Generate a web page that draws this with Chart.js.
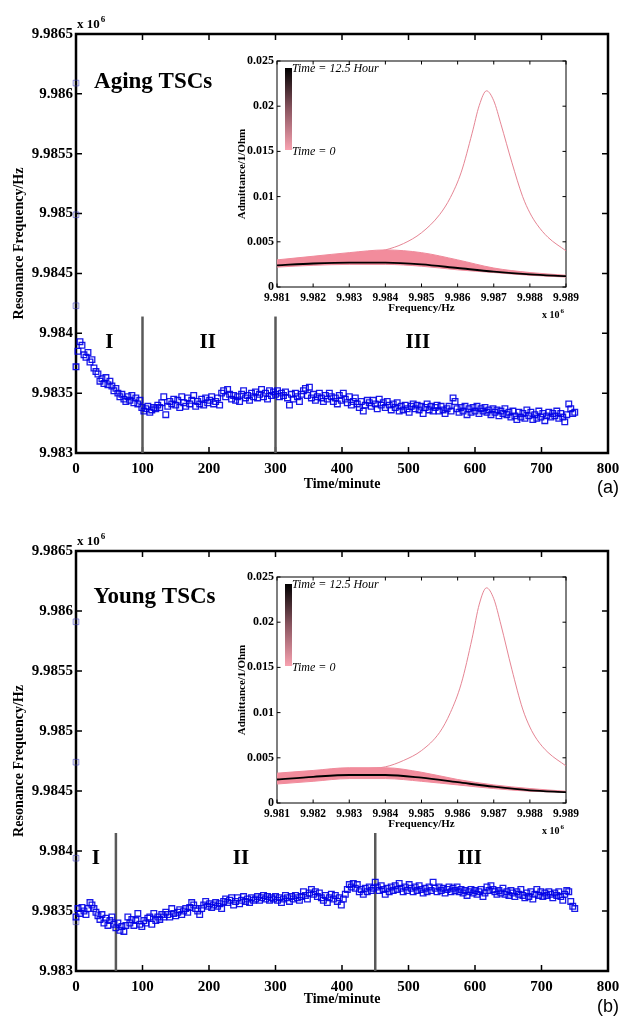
<!DOCTYPE html>
<html>
<head>
<meta charset="utf-8">
<script src="https://cdn.jsdelivr.net/npm/chart.js@4.4.1/dist/chart.umd.min.js"></script>
<style>
body { margin: 0; background: #fff; }
#page { position: relative; width: 633px; height: 1027px; }
canvas { position: absolute; }
</style>
</head>
<body>
<div id="page">
  <canvas id="mainA" width="633" height="510" style="left:0px;top:0px"></canvas>
  <canvas id="insetA" width="355" height="275" style="left:228px;top:50px"></canvas>
  <canvas id="mainB" width="633" height="517" style="left:0px;top:510px"></canvas>
  <canvas id="insetB" width="355" height="275" style="left:228px;top:566px"></canvas>
</div>
<script>
"use strict";

// resonance frequency (x 10^6 Hz), one sweep every 3 minutes, t = 0 ... 750
var sweepStep = 3;
var agingFreq = [
  9.98372, 9.98385, 9.98393, 9.98390, 9.98382, 9.98380, 9.98384, 9.98376, 9.98378, 9.98371,
  9.98368, 9.98366, 9.98360, 9.98362, 9.98358, 9.98363, 9.98357, 9.98360, 9.98356, 9.98352,
  9.98354, 9.98350, 9.98347, 9.98349, 9.98345, 9.98343, 9.98347, 9.98344, 9.98348, 9.98342,
  9.98346, 9.98341, 9.98344, 9.98338, 9.98335, 9.98337, 9.98339, 9.98334, 9.98336, 9.98338,
  9.98337, 9.98340, 9.98338, 9.98342, 9.98347, 9.98332, 9.98339, 9.98343, 9.98341, 9.98345,
  9.98340, 9.98344, 9.98338, 9.98347, 9.98342, 9.98339, 9.98346, 9.98341, 9.98344, 9.98348,
  9.98339, 9.98343, 9.98341, 9.98345, 9.98340, 9.98346, 9.98342, 9.98344, 9.98347, 9.98341,
  9.98343, 9.98346, 9.98340, 9.98350, 9.98352, 9.98347, 9.98353, 9.98349, 9.98345, 9.98348,
  9.98344, 9.98347, 9.98343, 9.98349, 9.98352, 9.98346, 9.98348, 9.98344, 9.98350, 9.98347,
  9.98351, 9.98346, 9.98349, 9.98353, 9.98347, 9.98350, 9.98345, 9.98352, 9.98348, 9.98351,
  9.98349, 9.98352, 9.98347, 9.98350, 9.98348, 9.98351, 9.98346, 9.98340, 9.98349, 9.98345,
  9.98350, 9.98347, 9.98343, 9.98349, 9.98352, 9.98354, 9.98348, 9.98355, 9.98346, 9.98349,
  9.98344, 9.98347, 9.98350, 9.98346, 9.98343, 9.98348, 9.98345, 9.98350, 9.98347, 9.98343,
  9.98346, 9.98341, 9.98348, 9.98344, 9.98350, 9.98345, 9.98342, 9.98347, 9.98340, 9.98343,
  9.98346, 9.98341, 9.98338, 9.98343, 9.98335, 9.98340, 9.98344, 9.98342, 9.98339, 9.98344,
  9.98341, 9.98337, 9.98345, 9.98340, 9.98342, 9.98338, 9.98343, 9.98340, 9.98336, 9.98341,
  9.98338, 9.98342, 9.98335, 9.98339, 9.98336, 9.98340, 9.98337, 9.98334, 9.98339, 9.98341,
  9.98337, 9.98340, 9.98336, 9.98339, 9.98333, 9.98338, 9.98341, 9.98336, 9.98339, 9.98335,
  9.98338, 9.98340, 9.98335, 9.98339, 9.98336, 9.98333, 9.98337, 9.98339, 9.98335, 9.98346,
  9.98343, 9.98337, 9.98334, 9.98338, 9.98335, 9.98339, 9.98332, 9.98337, 9.98334, 9.98338,
  9.98335, 9.98339, 9.98333, 9.98337, 9.98335, 9.98338, 9.98334, 9.98336, 9.98332, 9.98337,
  9.98334, 9.98336, 9.98331, 9.98335, 9.98333, 9.98337, 9.98332, 9.98334, 9.98330, 9.98335,
  9.98331, 9.98328, 9.98334, 9.98330, 9.98333, 9.98329, 9.98336, 9.98331, 9.98334, 9.98328,
  9.98332, 9.98329, 9.98335, 9.98330, 9.98333, 9.98327, 9.98331, 9.98334, 9.98330, 9.98333,
  9.98331, 9.98335, 9.98329, 9.98333, 9.98330, 9.98326, 9.98332, 9.98341, 9.98337, 9.98333,
  9.98334
];
var youngFreq = [
  9.98345, 9.98352, 9.98348, 9.98353, 9.98350, 9.98347, 9.98352, 9.98357, 9.98355, 9.98352,
  9.98349, 9.98346, 9.98343, 9.98347, 9.98340, 9.98344, 9.98338, 9.98342, 9.98345, 9.98339,
  9.98336, 9.98340, 9.98334, 9.98337, 9.98333, 9.98338, 9.98345, 9.98340, 9.98343, 9.98338,
  9.98342, 9.98348, 9.98339, 9.98337, 9.98342, 9.98340, 9.98344, 9.98345, 9.98339, 9.98348,
  9.98342, 9.98345, 9.98343, 9.98347, 9.98345, 9.98349, 9.98347, 9.98345, 9.98352, 9.98348,
  9.98346, 9.98349, 9.98351, 9.98347, 9.98350, 9.98352, 9.98349, 9.98353, 9.98357, 9.98355,
  9.98352, 9.98350, 9.98347, 9.98352, 9.98355, 9.98358, 9.98354, 9.98356, 9.98353, 9.98355,
  9.98357, 9.98354, 9.98356, 9.98352, 9.98358, 9.98360, 9.98357, 9.98359, 9.98361, 9.98355,
  9.98358, 9.98361, 9.98356, 9.98359, 9.98362, 9.98358, 9.98360, 9.98357, 9.98361, 9.98359,
  9.98360, 9.98362, 9.98359, 9.98361, 9.98363, 9.98360, 9.98362, 9.98359, 9.98361, 9.98360,
  9.98362, 9.98359, 9.98361, 9.98357, 9.98360, 9.98363, 9.98361, 9.98358, 9.98362, 9.98360,
  9.98363, 9.98361, 9.98359, 9.98362, 9.98366, 9.98363, 9.98360, 9.98365, 9.98368, 9.98364,
  9.98366, 9.98362, 9.98365, 9.98361, 9.98359, 9.98363, 9.98357, 9.98361, 9.98364, 9.98360,
  9.98363, 9.98358, 9.98361, 9.98355, 9.98360, 9.98364, 9.98368, 9.98372, 9.98370, 9.98373,
  9.98369, 9.98372, 9.98366, 9.98368, 9.98364, 9.98369, 9.98366, 9.98370, 9.98367, 9.98369,
  9.98374, 9.98370, 9.98367, 9.98371, 9.98368, 9.98364, 9.98369, 9.98366, 9.98370, 9.98367,
  9.98371, 9.98368, 9.98373, 9.98369, 9.98366, 9.98370, 9.98367, 9.98372, 9.98369, 9.98366,
  9.98370, 9.98367, 9.98371, 9.98368, 9.98365, 9.98369, 9.98366, 9.98370, 9.98367, 9.98374,
  9.98369, 9.98366, 9.98370, 9.98367, 9.98369, 9.98365, 9.98368, 9.98370, 9.98366, 9.98369,
  9.98367, 9.98370, 9.98366, 9.98368, 9.98365, 9.98367, 9.98363, 9.98366, 9.98368, 9.98365,
  9.98367, 9.98364, 9.98366, 9.98368, 9.98362, 9.98365, 9.98370, 9.98367, 9.98371, 9.98368,
  9.98366, 9.98364, 9.98367, 9.98365, 9.98369, 9.98364, 9.98366, 9.98363, 9.98367, 9.98365,
  9.98362, 9.98366, 9.98364, 9.98368, 9.98363, 9.98361, 9.98365, 9.98362, 9.98366, 9.98360,
  9.98364, 9.98368, 9.98363, 9.98366, 9.98362, 9.98365, 9.98363, 9.98366, 9.98364, 9.98361,
  9.98365, 9.98363, 9.98366, 9.98362, 9.98359, 9.98364, 9.98367, 9.98366, 9.98358, 9.98354,
  9.98352
];
// first sweeps that sat off the trend (all at t = 0)
var agingStart = [9.98609, 9.98499, 9.98423];
var youngStart = [9.98591, 9.98474, 9.98394, 9.98341];

var timeTicks = [0, 100, 200, 300, 400, 500, 600, 700, 800];
var freqTicks = [9.983, 9.9835, 9.984, 9.9845, 9.985, 9.9855, 9.986, 9.9865];

var phaseNames = ["I", "II", "III"];
var agingBounds = [100, 300];
var youngBounds = [60, 450];
var agingPhaseAt = [50, 198, 514];
var youngPhaseAt = [30, 248, 592];

// inset: admittance spectra (frequency x 10^6 Hz, admittance 1/Ohm)
var spectrumFreq = [9.981, 9.982, 9.983, 9.984, 9.985, 9.986, 9.987, 9.988, 9.989];
var agingUpper = [0.0030, 0.0034, 0.0038, 0.0041, 0.0038, 0.0030, 0.0021, 0.0016, 0.0013];
var agingLower = [0.0022, 0.0024, 0.0025, 0.0025, 0.0023, 0.0019, 0.0016, 0.0013, 0.0011];
var agingFinal = [0.0024, 0.0026, 0.0027, 0.0027, 0.0025, 0.0021, 0.0017, 0.0014, 0.0012];
var youngUpper = [0.0033, 0.0036, 0.0039, 0.0039, 0.0034, 0.0026, 0.0020, 0.0016, 0.0013];
var youngLower = [0.0021, 0.0024, 0.0027, 0.0027, 0.0024, 0.0020, 0.0016, 0.0013, 0.0012];
var youngFinal = [0.0026, 0.0029, 0.0031, 0.0031, 0.0028, 0.0023, 0.0018, 0.0014, 0.0012];
var peakFreq = [9.981, 9.982, 9.983, 9.9835, 9.984, 9.9845, 9.985, 9.9855, 9.9858, 9.9861,
  9.9864, 9.9866, 9.9868, 9.987, 9.9872, 9.9875, 9.9878, 9.988, 9.9882, 9.9885, 9.989];
var agingPeak = [0.0026, 0.0029, 0.0034, 0.0037, 0.0041, 0.0048, 0.0060, 0.0080, 0.0099, 0.0127,
  0.0170, 0.0201, 0.0217, 0.0206, 0.0180, 0.0138, 0.0100, 0.0082, 0.0069, 0.0055, 0.0040];
var youngPeak = [0.0027, 0.0030, 0.0035, 0.0038, 0.0040, 0.0047, 0.0058, 0.0078, 0.0100, 0.0132,
  0.0182, 0.0220, 0.0238, 0.0226, 0.0197, 0.0148, 0.0104, 0.0084, 0.0070, 0.0056, 0.0041];
var admTicks = [0, 0.005, 0.01, 0.015, 0.02, 0.025];

var serif = "'Liberation Serif', 'Times New Roman', serif";
Chart.defaults.animation = false;
Chart.defaults.events = [];

function pairs(xs, ys) {
  return ys.map(function (y, i) { return { x: xs[i], y: y }; });
}

// box round the plot with matlab style inward ticks
var framePlugin = {
  id: "frame",
  beforeDraw: function (chart, args, o) {
    var a = chart.chartArea;
    if (o.fill) {
      chart.ctx.save();
      chart.ctx.fillStyle = o.fill;
      chart.ctx.fillRect(a.left, a.top, a.right - a.left, a.bottom - a.top);
      chart.ctx.restore();
    }
  },
  beforeDatasetsDraw: function (chart, args, o) {
    var ctx = chart.ctx, a = chart.chartArea;
    var xs = chart.scales.x, ys = chart.scales.y;
    ctx.save();
    ctx.strokeStyle = "#000";
    ctx.lineWidth = o.tickWidth;
    ctx.beginPath();
    xs.ticks.forEach(function (t) {
      var px = xs.getPixelForValue(t.value);
      ctx.moveTo(px, a.bottom); ctx.lineTo(px, a.bottom - o.tick);
      ctx.moveTo(px, a.top); ctx.lineTo(px, a.top + o.tick);
    });
    ys.ticks.forEach(function (t) {
      var py = ys.getPixelForValue(t.value);
      ctx.moveTo(a.left, py); ctx.lineTo(a.left + o.tick, py);
      ctx.moveTo(a.right, py); ctx.lineTo(a.right - o.tick, py);
    });
    ctx.stroke();
    ctx.lineWidth = o.width;
    ctx.strokeRect(a.left, a.top, a.right - a.left, a.bottom - a.top);
    ctx.restore();
  }
};

function drawExponent(ctx, x, y, size) {
  ctx.font = "bold " + size + "px " + serif;
  ctx.textAlign = "left";
  ctx.textBaseline = "alphabetic";
  ctx.fillText("x 10", x, y);
  var w = ctx.measureText("x 10").width;
  ctx.font = "bold " + Math.round(size * 0.7) + "px " + serif;
  ctx.fillText("6", x + w + 1, y - size * 0.5);
}

var notesPlugin = {
  id: "notes",
  afterDraw: function (chart, args, o) {
    var ctx = chart.ctx, a = chart.chartArea;
    var xs = chart.scales.x, ys = chart.scales.y;
    ctx.save();
    ctx.fillStyle = "#000";
    if (o.title) {
      ctx.font = "bold 23px " + serif;
      ctx.textAlign = "center";
      ctx.textBaseline = "middle";
      ctx.fillText(o.title, xs.getPixelForValue(o.titleAt[0]), ys.getPixelForValue(o.titleAt[1]));
      ctx.font = "bold 21px " + serif;
      o.phaseAt.forEach(function (t, i) {
        ctx.fillText(phaseNames[i], xs.getPixelForValue(t), ys.getPixelForValue(o.phaseY));
      });
      ctx.font = "18px 'Liberation Sans', Arial, sans-serif";
      ctx.fillText(o.panel, o.panelXY[0], o.panelXY[1]);
      drawExponent(ctx, a.left + 1, a.top - 6, 13);
    }
    if (o.colorbar) {
      var top = a.top + 7, h = 82;
      var g = ctx.createLinearGradient(0, top, 0, top + h);
      g.addColorStop(0, "#000000");
      g.addColorStop(0.5, "#8a5560");
      g.addColorStop(1, "#f8a2b0");
      ctx.fillStyle = g;
      ctx.fillRect(a.left + 8, top, 7, h);
      ctx.fillStyle = "#000";
      ctx.font = "italic 12px " + serif;
      ctx.textAlign = "left";
      ctx.textBaseline = "middle";
      ctx.fillText("Time = 12.5 Hour", a.left + 15, top + 1);
      ctx.fillText("Time = 0", a.left + 15, top + h + 2);
      drawExponent(ctx, a.right - 24, a.bottom + 31, 10);
    }
    ctx.restore();
  }
};

function boldFont(size) {
  return { family: serif, size: size, weight: "bold" };
}

function drawMain(id, freq, start, bounds, lineTop, notes, bottomAxis, titlePad) {
  var pts = pairs(freq.map(function (f, i) { return i * sweepStep; }), freq);
  var early = start.map(function (f) { return { x: 0, y: f }; });
  var datasets = [
    {
      data: pts, pointStyle: "rect", pointRadius: 4, borderWidth: 1.3,
      borderColor: "rgba(0,0,230,0.9)", backgroundColor: "rgba(0,0,0,0)", clip: false, order: 1
    },
    {
      data: early, pointStyle: "rect", pointRadius: 4, borderWidth: 1,
      borderColor: "rgba(60,60,190,0.55)", backgroundColor: "rgba(0,0,0,0)", clip: false, order: 1
    }
  ];
  bounds.forEach(function (b) {
    datasets.push({
      type: "line", showLine: true, data: [{ x: b, y: 9.983 }, { x: b, y: lineTop }],
      borderColor: "#595959", borderWidth: 2.5, pointRadius: 0, order: 2
    });
  });

  new Chart(document.getElementById(id), {
    type: "scatter",
    data: { datasets: datasets },
    plugins: [framePlugin, notesPlugin],
    options: {
      responsive: false,
      devicePixelRatio: 1,
      layout: { padding: { top: notes.padTop, right: 25, left: 0, bottom: 0 } },
      plugins: {
        legend: { display: false },
        tooltip: { enabled: false },
        frame: { width: 2.5, tick: 6, tickWidth: 1.5 },
        notes: notes
      },
      scales: {
        x: {
          type: "linear", min: 0, max: 800,
          afterBuildTicks: function (s) { s.ticks = timeTicks.map(function (v) { return { value: v }; }); },
          afterFit: function (s) { s.height = bottomAxis; },
          grid: { display: false, drawTicks: false },
          border: { display: false },
          ticks: { font: boldFont(15), color: "#000", padding: 7, maxRotation: 0, autoSkip: false },
          title: { display: true, text: "Time/minute", font: boldFont(14), color: "#000", padding: { top: 0, bottom: titlePad } }
        },
        y: {
          type: "linear", min: 9.983, max: 9.9865,
          afterBuildTicks: function (s) { s.ticks = freqTicks.map(function (v) { return { value: v }; }); },
          afterFit: function (s) { s.width = 76; },
          grid: { display: false, drawTicks: false },
          border: { display: false },
          ticks: {
            font: boldFont(15), color: "#000", padding: 3, autoSkip: false,
            callback: function (v) { return String(+v.toFixed(4)); }
          },
          title: { display: true, text: "Resonance Frequency/Hz", font: boldFont(14), color: "#000", padding: { top: 11, bottom: 0 } }
        }
      }
    }
  });
}

function drawInset(id, upper, lower, last, peak) {
  var line = { pointRadius: 0, cubicInterpolationMode: "monotone" };
  new Chart(document.getElementById(id), {
    type: "line",
    data: {
      datasets: [
        Object.assign({ data: pairs(spectrumFreq, upper), borderColor: "#f08a9b", borderWidth: 1, fill: "+1", backgroundColor: "#f28c9c", order: 3 }, line),
        Object.assign({ data: pairs(spectrumFreq, lower), borderColor: "#f08a9b", borderWidth: 1, fill: false, order: 3 }, line),
        Object.assign({ data: pairs(spectrumFreq, last), borderColor: "#000", borderWidth: 1.8, fill: false, order: 1 }, line),
        Object.assign({ data: pairs(peakFreq, peak), borderColor: "rgba(226,120,136,0.9)", borderWidth: 1, fill: false, order: 4 }, line)
      ]
    },
    plugins: [framePlugin, notesPlugin],
    options: {
      responsive: false,
      devicePixelRatio: 1,
      layout: { padding: { top: 11, right: 17, left: 0, bottom: 0 } },
      plugins: {
        legend: { display: false },
        tooltip: { enabled: false },
        frame: { width: 1, tick: 3.5, tickWidth: 1, fill: "#fff" },
        notes: { colorbar: true }
      },
      scales: {
        x: {
          type: "linear", min: 9.981, max: 9.989,
          afterBuildTicks: function (s) { s.ticks = spectrumFreq.map(function (v) { return { value: v }; }); },
          afterFit: function (s) { s.height = 38; },
          grid: { display: false, drawTicks: false },
          border: { display: false },
          ticks: { font: boldFont(11.5), color: "#000", padding: 4, maxRotation: 0, autoSkip: false,
            callback: function (v) { return String(+v.toFixed(3)); } },
          title: { display: true, text: "Frequency/Hz", font: boldFont(11), color: "#000", padding: { top: 0, bottom: 10 } }
        },
        y: {
          type: "linear", min: 0, max: 0.025,
          afterBuildTicks: function (s) { s.ticks = admTicks.map(function (v) { return { value: v }; }); },
          afterFit: function (s) { s.width = 49; },
          grid: { display: false, drawTicks: false },
          border: { display: false },
          ticks: { font: boldFont(12), color: "#000", padding: 3, autoSkip: false,
            callback: function (v) { return String(+v.toFixed(3)); } },
          title: { display: true, text: "Admittance/1/Ohm", font: boldFont(11), color: "#000", padding: { top: 8, bottom: 0 } }
        }
      }
    }
  });
}

drawMain("mainA", agingFreq, agingStart, agingBounds, 9.98414,
  { padTop: 34, title: "Aging TSCs", titleAt: [116, 9.9861], phaseAt: agingPhaseAt, phaseY: 9.98392, panel: "(a)", panelXY: [608, 488] },
  57, 17);
drawMain("mainB", youngFreq, youngStart, youngBounds, 9.98415,
  { padTop: 41, title: "Young TSCs", titleAt: [118, 9.98612], phaseAt: youngPhaseAt, phaseY: 9.98394, panel: "(b)", panelXY: [608, 497] },
  56, 19);
drawInset("insetA", agingUpper, agingLower, agingFinal, agingPeak);
drawInset("insetB", youngUpper, youngLower, youngFinal, youngPeak);
</script>
</body>
</html>
